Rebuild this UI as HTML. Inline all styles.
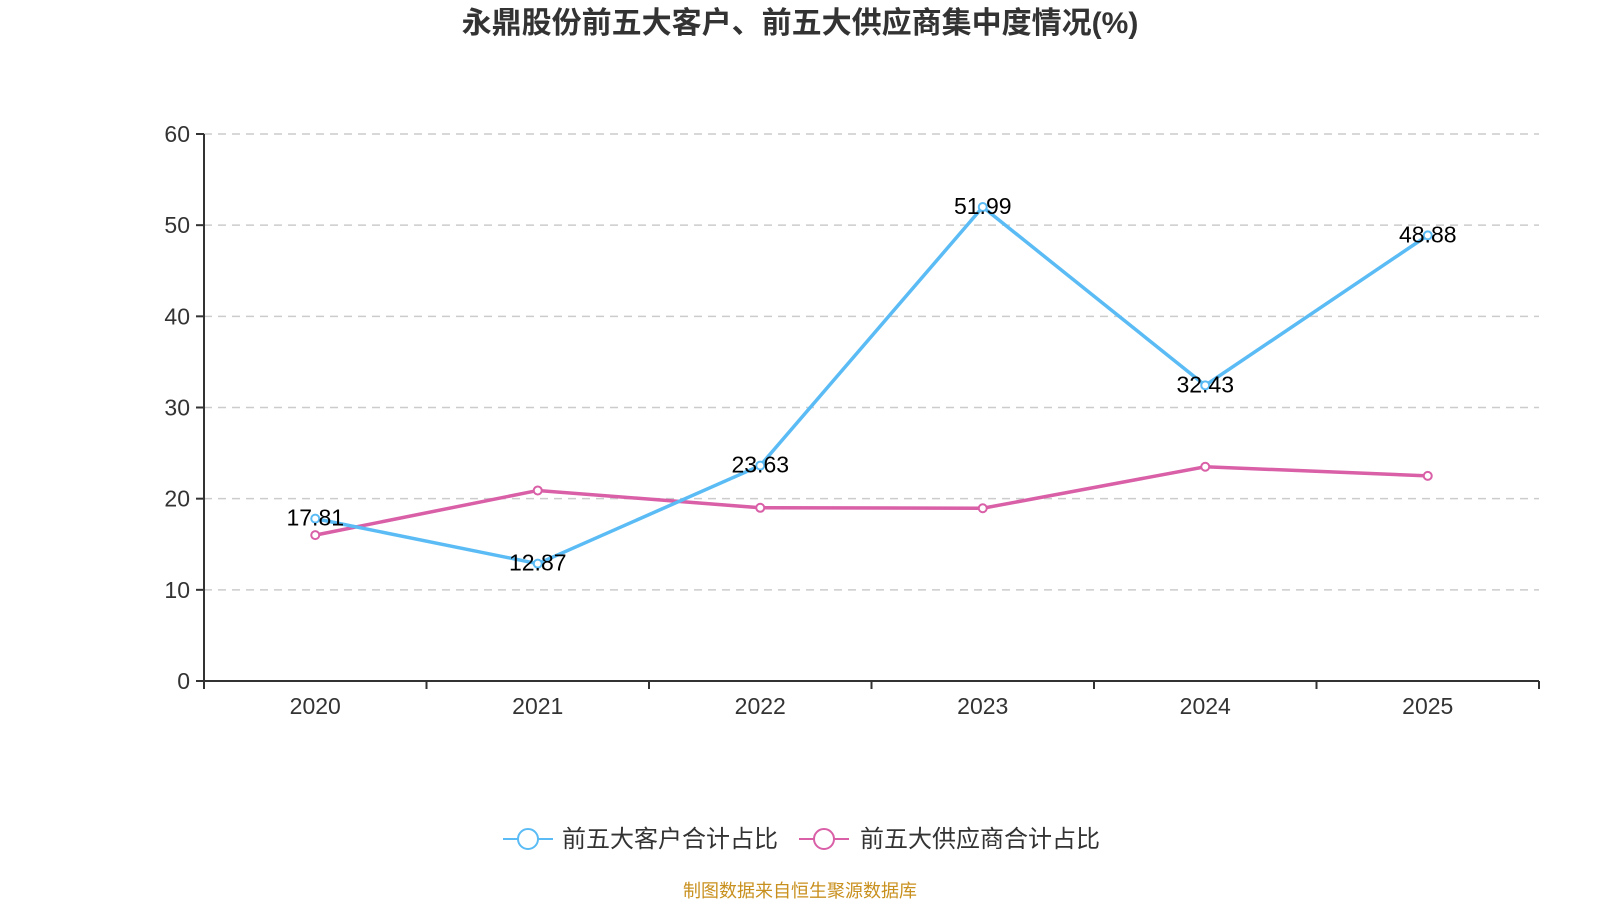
<!DOCTYPE html>
<html><head><meta charset="utf-8"><style>
body{margin:0;background:#fff;}
svg{display:block;font-family:"Liberation Sans","Noto Sans CJK SC",sans-serif;}
</style></head><body>
<svg id="chart" width="1600" height="900">
<text x="800" y="33" text-anchor="middle" font-size="30" font-weight="bold" fill="#333">永鼎股份前五大客户、前五大供应商集中度情况(%)</text>
<g id="grid"></g><g id="axes"></g><g id="series"></g>
<g>
<g>
<line x1="503" y1="839" x2="553" y2="839" stroke="#5bbcf5" stroke-width="2"/>
<circle cx="528" cy="839" r="10" fill="#fff" stroke="#5bbcf5" stroke-width="2"/>
<text x="562" y="847" font-size="24" fill="#333">前五大客户合计占比</text></g>
<g>
<line x1="799" y1="839" x2="849" y2="839" stroke="#d95fa7" stroke-width="2"/>
<circle cx="824" cy="839" r="10" fill="#fff" stroke="#d95fa7" stroke-width="2"/>
<text x="860" y="847" font-size="24" fill="#333">前五大供应商合计占比</text></g>
</g>
<text x="800" y="897" text-anchor="middle" font-size="18" fill="#c8901e">制图数据来自恒生聚源数据库</text>
</svg>
<script>
const categories=["2020","2021","2022","2023","2024","2025"];
const customerValues=[17.81,12.87,23.63,51.99,32.43,48.88];
const supplierValues=[16.0,20.9,19.0,18.95,23.5,22.5];
const yTicks=[0,10,20,30,40,50,60];
const NS="http://www.w3.org/2000/svg";
const L=204,R=1539,T=134,B=681,yMax=60;
const band=(R-L)/categories.length;
const xS=i=>L+band*(i+0.5);
const yS=v=>B-(v/yMax)*(B-T);
function mk(tag,attrs,parent,txt){const e=document.createElementNS(NS,tag);for(const k in attrs)e.setAttribute(k,attrs[k]);if(txt!==undefined)e.textContent=txt;parent.appendChild(e);return e;}
const grid=document.getElementById('grid'),axes=document.getElementById('axes'),ser=document.getElementById('series');
yTicks.forEach(t=>{
 const y=yS(t);
 if(t>0){const g=mk('line',{x1:L,x2:R,y1:y,y2:y,stroke:'#ccc','stroke-dasharray':'8,6','stroke-width':1.5},grid);
 
 }
 const tk=mk('line',{x1:L-8,x2:L,y1:y,y2:y,stroke:'#333','stroke-width':2},axes);
 
 
 const lb=mk('text',{x:L-14,y:y+8,'text-anchor':'end','font-size':23,fill:'#333'},axes,t);
 
 
});
const ya=mk('line',{x1:L,x2:L,y1:T,y2:B,stroke:'#333','stroke-width':2},axes);


const xa=mk('line',{x1:L,x2:R,y1:B,y2:B,stroke:'#333','stroke-width':2},axes);


for(let i=0;i<=categories.length;i++){const x=L+band*i;
 const tk=mk('line',{x1:x,x2:x,y1:B,y2:B+8,stroke:'#333','stroke-width':2},axes);
 
 }
categories.forEach((c,i)=>{const t=mk('text',{x:xS(i),y:B+33,'text-anchor':'middle','font-size':23,fill:'#333'},axes,c);
 
 });
function drawSeries(vals,color,name,labels){
 const p=mk('polyline',{points:vals.map((v,i)=>xS(i)+','+yS(v)).join(' '),fill:'none',stroke:color,'stroke-width':3.5},ser);
 
 
 vals.forEach((v,i)=>{const c=mk('circle',{cx:xS(i),cy:yS(v),r:4,fill:'#fff',stroke:color,'stroke-width':2},ser);
  
  
  if(labels){const t=mk('text',{x:xS(i),y:yS(v)+7,'text-anchor':'middle','font-size':23,fill:'#000'},ser,v.toFixed(2));
   
   }
 });
}
drawSeries(supplierValues,'#d95fa7','supplier',false);
drawSeries(customerValues,'#5bbcf5','customer',true);
</script>
</body></html>
